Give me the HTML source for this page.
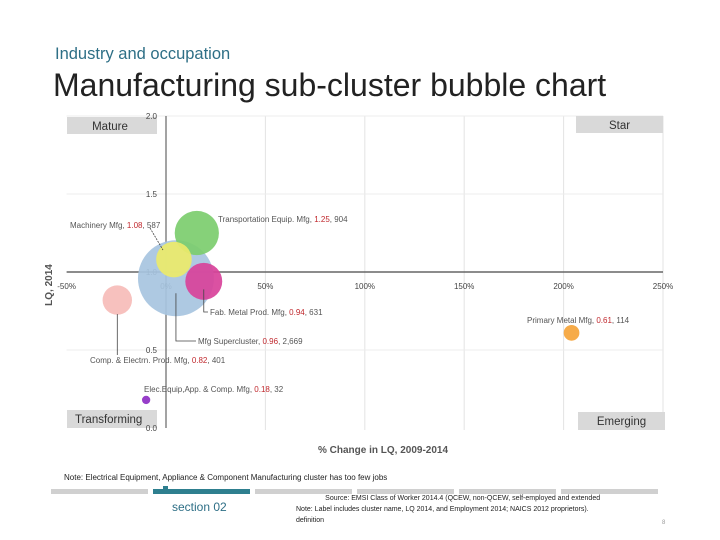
<!DOCTYPE html>
<html><head><meta charset="utf-8"><style>
body{margin:0;width:720px;height:540px;background:#fff;overflow:hidden;font-family:"Liberation Sans",sans-serif;position:relative}
.t{position:absolute;white-space:nowrap}
</style></head><body>
<div class="t" style="left:55px;top:45px;font-size:16.5px;color:#2e6f86">Industry and occupation</div>
<div class="t" style="left:53px;top:67px;font-size:32px;color:#222">Manufacturing sub-cluster bubble chart</div>
<svg id="chart" width="720" height="540" style="position:absolute;left:0;top:0" font-family="Liberation Sans, sans-serif"></svg>
<div class="t" style="left:64px;top:473px;font-size:8px;color:#222">Note: Electrical Equipment, Appliance &amp; Component Manufacturing cluster has too few jobs</div>
<div class="t" style="left:172px;top:500px;font-size:12px;color:#2e6f86">section 02</div>
<div class="t" style="left:296px;top:493px;font-size:7px;color:#222;line-height:11px">&nbsp;&nbsp;&nbsp;&nbsp;&nbsp;&nbsp;&nbsp;&nbsp;&nbsp;&nbsp;&nbsp;&nbsp;&nbsp;&nbsp;&nbsp;Source: EMSI Class of Worker 2014.4 (QCEW, non-QCEW, self-employed and extended<br>Note: Label includes cluster name, LQ 2014, and Employment 2014; NAICS 2012 proprietors).<br>definition</div>
<div class="t" style="left:662px;top:520px;font-size:6px;color:#999">8</div>
<script>
const names=["Mfg Supercluster","Transportation Equip. Mfg","Machinery Mfg","Fab. Metal Prod. Mfg","Comp. & Electrn. Prod. Mfg","Elec.Equip,App. & Comp. Mfg","Primary Metal Mfg"];
const pctChange=[5,15.5,4,19,-24.5,-10,204];
const lq=[0.96,1.25,1.08,0.94,0.82,0.18,0.61];
const employment=[2669,904,587,631,401,32,114];
const colors=["#a7c4e0","#7ccd6e","#ecea6a","#d8429a","#f6bcb8","#8e2ec4","#f5a43a"];
const xTicks=[-50,0,50,100,150,200,250];
const yTicks=[0,0.5,1,1.5,2];
const NS="http://www.w3.org/2000/svg";
const svg=document.getElementById('chart');
const X=v=>166+(v)*(663-166)/250;
const Y=v=>428-v*156;
const R=e=>0.735*Math.sqrt(e);
function mk(tag,a,p){const e=document.createElementNS(NS,tag);for(const k in a)e.setAttribute(k,a[k]);(p||svg).appendChild(e);return e;}
xTicks.forEach(t=>{if(t<=0)return;const l=mk('line',{x1:X(t),x2:X(t),y1:116,y2:430,stroke:'#e3e3e3','stroke-width':1});

});
yTicks.forEach(t=>{if(t===1||t===0)return;const l=mk('line',{x1:X(-50),x2:X(250),y1:Y(t),y2:Y(t),stroke:'#ececec','stroke-width':1});

});
const boxes=[["Mature",67,117,90,17,"mature-label"],["Star",576,116,87,17,"star-label"],["Transforming",67,410,90,18,"transforming-label"],["Emerging",578,412,87,18,"emerging-label"]];
boxes.forEach(b=>{const g=mk('g',{});


mk('rect',{x:b[1],y:b[2],width:b[3],height:b[4],fill:'#d9d9d9'},g);
const t=mk('text',{x:b[0]==="Transforming"?b[1]+8:b[1]+b[3]/2+ (b[0]==="Mature"?-2:0),y:b[2]+13,'font-size':11.5,fill:'#333','text-anchor':b[0]==="Transforming"?'start':'middle'},g);t.textContent=b[0];});
const ax=mk('line',{x1:X(-50),x2:X(250),y1:Y(1),y2:Y(1),stroke:'#666','stroke-width':1.5});


const ay=mk('line',{x1:X(0),x2:X(0),y1:Y(2),y2:Y(0),stroke:'#666','stroke-width':1.2});


xTicks.forEach(t=>{const e=mk('text',{x:X(t),y:Y(1)+17,'font-size':8,fill:'#444','text-anchor':'middle'});e.textContent=t+'%';

});
yTicks.forEach(t=>{const e=mk('text',{x:X(0)-9,y:Y(t)+3,'font-size':8,fill:'#444','text-anchor':'end'});e.textContent=t.toFixed(1);

});
const xt=mk('text',{x:383,y:453,'font-size':10,fill:'#555','text-anchor':'middle','font-weight':'bold'});xt.textContent='% Change in LQ, 2009-2014';


const yt=mk('text',{x:52,y:285,'font-size':10,fill:'#555','text-anchor':'middle','font-weight':'bold',transform:'rotate(-90 52 285)'});yt.textContent='LQ, 2014';


names.forEach((n,i)=>{const c=mk('circle',{cx:X(pctChange[i]),cy:Y(lq[i]),r:R(employment[i]),fill:colors[i],'fill-opacity':0.92});

});
const labels=[[0,198,344,'start',[[X(pctChange[0]),Y(lq[0])+15],[X(pctChange[0]),341],[196,341]]],
[1,218,222,'start',null],[2,70,228,'start',[[150,228],[163,250]]],
[3,210,315,'start',[[X(pctChange[3]),Y(lq[3])+8],[X(pctChange[3]),312],[208,312]]],
[4,90,363,'start',[[X(pctChange[4]),Y(lq[4])+14],[X(pctChange[4]),355]]],
[5,144,392,'start',null],[6,527,323,'start',null]];
labels.forEach(L=>{const i=L[0];
if(L[4]){const p=mk('polyline',{points:L[4].map(q=>q.join(',')).join(' '),fill:'none',stroke:'#444','stroke-width':0.8,'stroke-dasharray':i===2?'2,1':'none'});

}
const t=mk('text',{x:L[1],y:L[2],'font-size':8,fill:'#555'});


const a=mk('tspan',{},t);a.textContent=names[i]+', ';
const b=mk('tspan',{fill:'#c0282d'},t);b.textContent=lq[i].toFixed(2);
const c=mk('tspan',{},t);c.textContent=', '+employment[i].toLocaleString('en-US');});
for(let k=0;k<6;k++){const x=51+k*102;const r=mk('rect',{x:x,y:489,width:97,height:5,fill:k===1?'#2e7f8f':'#d0d0d0'});

}
mk('rect',{x:163,y:486,width:5,height:4,fill:'#2e7f8f'});
</script>
</body></html>
